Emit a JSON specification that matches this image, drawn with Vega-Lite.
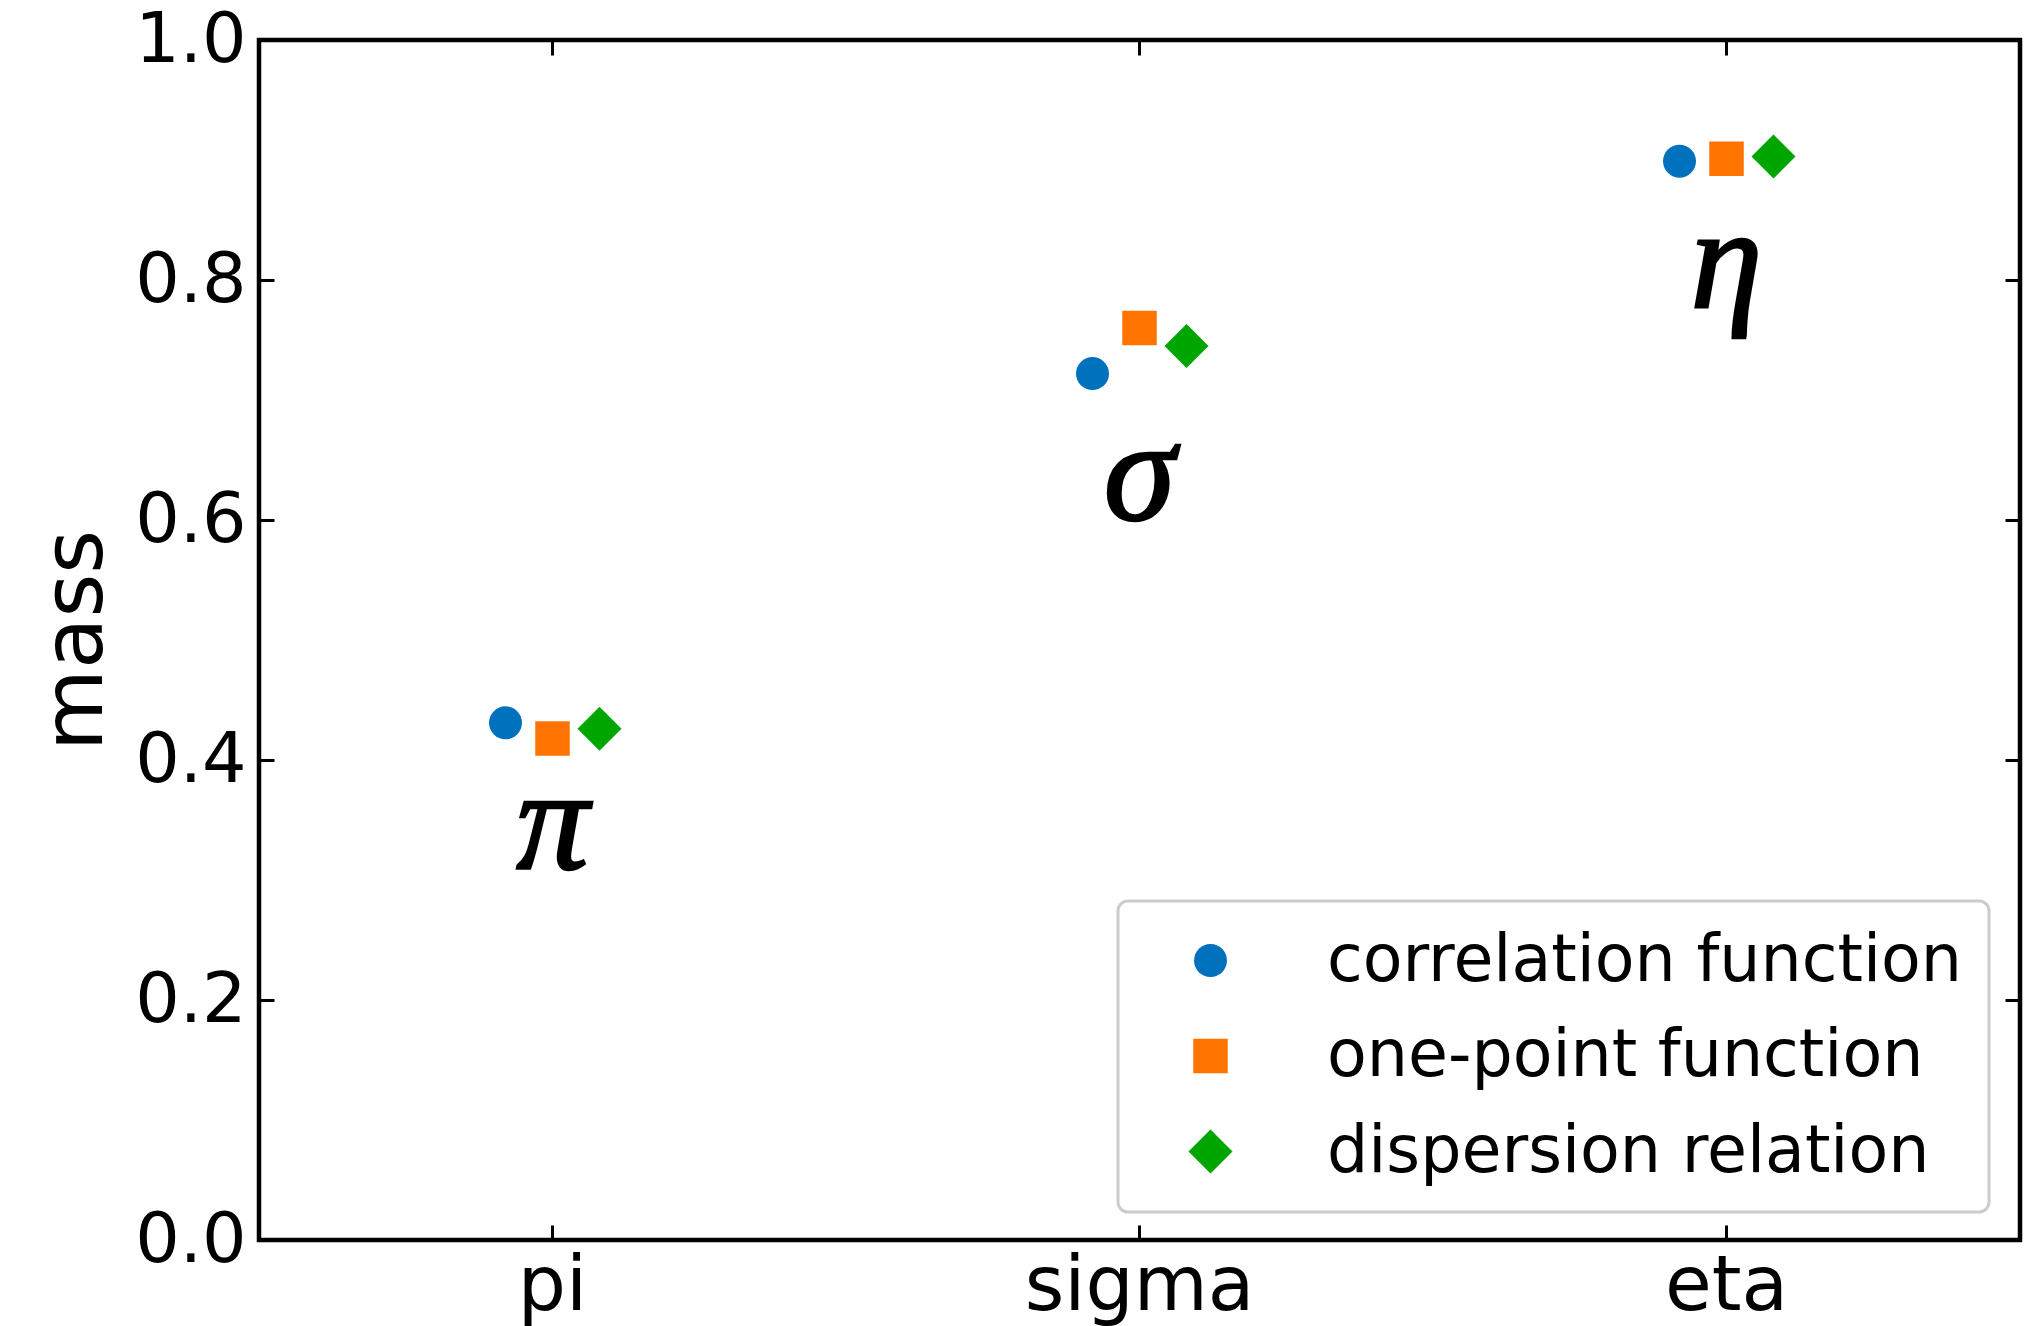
{
  "$schema": "https://vega.github.io/schema/vega-lite/v6.json",
  "width": 1761,
  "height": 1200,
  "autosize": {"type": "none"},
  "padding": {"left": 259, "top": 40, "right": 8, "bottom": 86},
  "background": "white",
  "config": {
    "font": "DejaVu Sans",
    "view": {"stroke": "black", "strokeWidth": 4.5},
    "axis": {
      "domain": false,
      "grid": false,
      "tickColor": "black",
      "tickWidth": 3,
      "tickSize": -15,
      "labelColor": "black",
      "titleColor": "black",
      "titleFontWeight": "normal",
      "labelLimit": 0
    },
    "legend": {
      "strokeColor": "#cccccc",
      "strokeWidth": 3,
      "fillColor": "rgba(255,255,255,0.8)",
      "cornerRadius": 10,
      "padding": 27,
      "labelFontSize": 65,
      "labelColor": "black",
      "labelLimit": 0,
      "symbolStrokeWidth": 0,
      "rowPadding": 29.5
    }
  },
  "data": {
    "values": [
      {"particle": "pi", "glyph": "π", "method": "correlation function", "mass": 0.431},
      {"particle": "pi", "glyph": "π", "method": "one-point function", "mass": 0.418},
      {"particle": "pi", "glyph": "π", "method": "dispersion relation", "mass": 0.426},
      {"particle": "sigma", "glyph": "σ", "method": "correlation function", "mass": 0.722},
      {"particle": "sigma", "glyph": "σ", "method": "one-point function", "mass": 0.760},
      {"particle": "sigma", "glyph": "σ", "method": "dispersion relation", "mass": 0.745},
      {"particle": "eta", "glyph": "η", "method": "correlation function", "mass": 0.899},
      {"particle": "eta", "glyph": "η", "method": "one-point function", "mass": 0.901},
      {"particle": "eta", "glyph": "η", "method": "dispersion relation", "mass": 0.903}
    ]
  },
  "layer": [
    {
      "mark": {"type": "point", "filled": true, "opacity": 1},
      "encoding": {
        "x": {
          "field": "particle",
          "type": "nominal",
          "scale": {"domain": ["pi", "sigma", "eta"], "paddingInner": 0, "paddingOuter": 0},
          "axis": {"orient": "bottom", "title": null, "labelAngle": 0, "labelFontSize": 76, "labelPadding": 24, "bandPosition": 0.5}
        },
        "xOffset": {
          "field": "method",
          "type": "nominal",
          "scale": {"type": "point", "domain": ["correlation function", "one-point function", "dispersion relation"], "range": [246.5, 340.5], "padding": 0}
        },
        "y": {
          "field": "mass",
          "type": "quantitative",
          "scale": {"domain": [0, 1], "nice": false, "zero": false},
          "axis": {"orient": "left", "title": "mass", "titleFontSize": 84, "titlePadding": 15, "values": [0, 0.2, 0.4, 0.6, 0.8, 1.0], "format": ".1f", "labelFontSize": 70, "labelPadding": 28}
        },
        "color": {
          "field": "method",
          "type": "nominal",
          "scale": {"domain": ["correlation function", "one-point function", "dispersion relation"], "range": ["#0072bd", "#ff7300", "#00a600"]},
          "legend": {
            "orient": "none",
            "legendX": 859,
            "legendY": 861,
            "title": null,
            "symbolOffset": 33,
            "labelOffset": 84
          }
        },
        "shape": {
          "field": "method",
          "type": "nominal",
          "scale": {"domain": ["correlation function", "one-point function", "dispersion relation"], "range": ["circle", "square", "diamond"]}
        },
        "size": {
          "field": "method",
          "type": "nominal",
          "scale": {"type": "ordinal", "domain": ["correlation function", "one-point function", "dispersion relation"], "range": [1089, 1190, 1936]}
        }
      }
    },
    {
      "transform": [{"filter": "datum.method === 'correlation function'"}],
      "mark": {"type": "text", "font": "Liberation Serif", "fontStyle": "italic", "fontSize": 145, "dy": 146, "baseline": "alphabetic", "align": "center", "color": "black", "stroke": "black", "strokeWidth": 2.5},
      "encoding": {
        "x": {"field": "particle", "type": "nominal", "axis": {"orient": "top", "labels": false, "title": null, "bandPosition": 0.5}},
        "y": {"field": "mass", "type": "quantitative", "axis": {"orient": "right", "labels": false, "title": null, "values": [0, 0.2, 0.4, 0.6, 0.8, 1.0]}},
        "text": {"field": "glyph"}
      }
    }
  ],
  "resolve": {"axis": {"x": "independent", "y": "independent"}}
}
